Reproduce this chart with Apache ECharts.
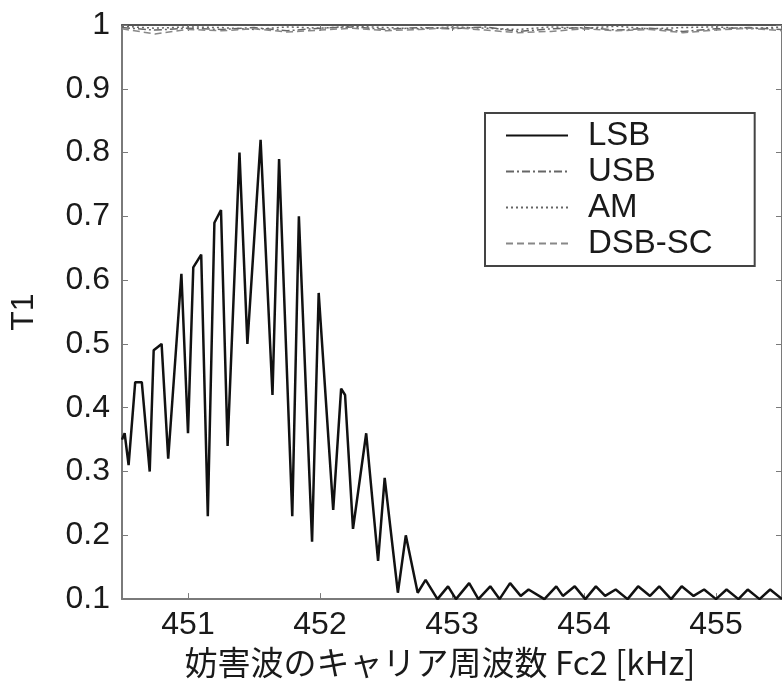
<!DOCTYPE html>
<html>
<head>
<meta charset="utf-8">
<script src="https://cdn.jsdelivr.net/npm/echarts@6/dist/echarts.min.js"></script>
<style>
html,body{margin:0;padding:0;background:#fff;}
#chart{width:782px;height:684px;}
</style>
</head>
<body>
<div id="chart"></div>
<script>
// ---- data ----
const xTicks = [451, 452, 453, 454, 455];
const yTicks = [0.1, 0.2, 0.3, 0.4, 0.5, 0.6, 0.7, 0.8, 0.9, 1.0];
const seriesNames = ['LSB', 'USB', 'AM', 'DSB-SC'];

const lsbFreq = [450.50, 450.52, 450.55, 450.60, 450.65, 450.71, 450.74, 450.80, 450.85, 450.95, 451.00,
  451.04, 451.10, 451.15, 451.20, 451.25, 451.30, 451.39, 451.45, 451.55, 451.64, 451.69, 451.79,
  451.84, 451.94, 451.99, 452.10, 452.16, 452.19, 452.25, 452.35, 452.44, 452.49, 452.59, 452.65,
  452.74, 452.80, 452.89, 452.97, 453.03, 453.13, 453.20, 453.29, 453.36, 453.44, 453.52, 453.58,
  453.70, 453.79, 453.84, 453.93, 454.01, 454.09, 454.16, 454.24, 454.33, 454.41, 454.50, 454.57,
  454.66, 454.74, 454.83, 454.91, 455.00, 455.08, 455.17, 455.24, 455.33, 455.41, 455.50];
const lsbT1 = [0.35, 0.36, 0.31, 0.44, 0.44, 0.30, 0.49, 0.50, 0.32, 0.61, 0.36,
  0.62, 0.64, 0.23, 0.69, 0.71, 0.34, 0.80, 0.50, 0.82, 0.42, 0.79, 0.23,
  0.70, 0.19, 0.58, 0.24, 0.43, 0.42, 0.21, 0.36, 0.16, 0.29, 0.11, 0.20,
  0.11, 0.13, 0.10, 0.12, 0.10, 0.125, 0.10, 0.12, 0.10, 0.125, 0.105, 0.115,
  0.10, 0.12, 0.105, 0.12, 0.10, 0.12, 0.105, 0.115, 0.10, 0.12, 0.105, 0.12,
  0.10, 0.12, 0.105, 0.115, 0.10, 0.115, 0.10, 0.115, 0.10, 0.115, 0.10];

const topFreq = [450.50, 450.75, 451.00, 451.25, 451.50, 451.75, 452.00, 452.25, 452.50, 452.75, 453.00,
  453.25, 453.50, 453.75, 454.00, 454.25, 454.50, 454.75, 455.00, 455.25, 455.50];
const usbT1 = [0.996, 0.992, 0.995, 0.993, 0.996, 0.991, 0.995, 0.997, 0.993, 0.996, 0.994,
  0.997, 0.990, 0.994, 0.996, 0.992, 0.995, 0.990, 0.994, 0.996, 0.993];
const amT1 = [0.998, 0.995, 0.997, 0.996, 0.993, 0.997, 0.995, 0.998, 0.996, 0.994, 0.997,
  0.995, 0.993, 0.997, 0.995, 0.998, 0.994, 0.996, 0.997, 0.994, 0.997];
const dsbT1 = [0.994, 0.986, 0.993, 0.991, 0.994, 0.989, 0.992, 0.995, 0.991, 0.993, 0.996,
  0.992, 0.988, 0.990, 0.994, 0.991, 0.993, 0.988, 0.992, 0.995, 0.991];

// ---- chart ----
const zip = (xs, ys) => xs.map((x, i) => [x, ys[i]]);
const FONT = '"Liberation Sans", Arial, Helvetica, sans-serif';
const TXT = '#1a1a1a';
const AX = '#7a7a7a';

const chart = echarts.init(document.getElementById('chart'), null, {renderer: 'canvas'});

const option = {
  animation: false,
  backgroundColor: '#ffffff',
  grid: {left: 120, top: 25, width: 671, height: 578, containLabel: false},
  legend: {
    orient: 'vertical',
    left: 485, top: 113,
    itemWidth: 62, itemHeight: 14, itemGap: 3,
    padding: [6, 42, 6, 20],
    borderColor: '#444', borderWidth: 2,
    backgroundColor: '#fff',
    data: seriesNames,
    itemStyle: {opacity: 0},
    textStyle: {fontSize: 33, fontFamily: FONT, color: TXT, padding: [0, 0, 0, 15]}
  },
  xAxis: [{
    type: 'value', position: 'bottom', min: 450.5, max: 455.5,
    axisLine: {show: true, onZero: false, lineStyle: {color: AX, width: 2}},
    axisTick: {show: true, inside: true, length: 6, customValues: xTicks, lineStyle: {color: AX}},
    axisLabel: {customValues: xTicks, fontSize: 32, fontFamily: FONT, color: TXT, margin: 10},
    splitLine: {show: false},
    name: '妨害波のキャリア周波数 Fc2 [kHz]',
    nameLocation: 'middle', nameGap: 42,
    nameTextStyle: {fontSize: 33, fontFamily: '"Noto Sans CJK JP", ' + FONT, color: TXT, padding: [0, 24, 0, 0]}
  }, {
    type: 'value', position: 'top', min: 450.5, max: 455.5,
    axisLine: {show: true, onZero: false, lineStyle: {color: '#555', width: 2}},
    axisTick: {show: true, inside: true, length: 6, customValues: xTicks, lineStyle: {color: AX}},
    axisLabel: {show: false}, splitLine: {show: false}
  }],
  yAxis: [{
    type: 'value', position: 'left', min: 0.1, max: 1,
    axisLine: {show: true, onZero: false, lineStyle: {color: AX, width: 2}},
    axisTick: {show: true, inside: true, length: 6, customValues: yTicks, lineStyle: {color: AX}},
    axisLabel: {customValues: yTicks, fontSize: 32, fontFamily: FONT, color: TXT, margin: 12,
      formatter: v => (Math.abs(v - 1) < 1e-9 ? '1' : v.toFixed(1))},
    splitLine: {show: false},
    name: 'T1', nameLocation: 'middle', nameGap: 82,
    nameTextStyle: {fontSize: 32, fontFamily: FONT, color: TXT}
  }, {
    type: 'value', position: 'right', min: 0.1, max: 1,
    axisLine: {show: true, onZero: false, lineStyle: {color: AX, width: 2}},
    axisTick: {show: true, inside: true, length: 6, customValues: yTicks, lineStyle: {color: AX}},
    axisLabel: {show: false}, splitLine: {show: false}
  }],
  series: [
    {name: 'LSB', type: 'line', data: zip(lsbFreq, lsbT1), symbol: 'none', z: 5,
      lineStyle: {color: '#111', width: 2.5, type: 'solid'}, itemStyle: {color: '#111'}},
    {name: 'USB', type: 'line', data: zip(topFreq, usbT1), symbol: 'none', z: 3,
      lineStyle: {color: '#666', width: 1.5, type: [8, 3, 2, 3]}, itemStyle: {color: '#666'}},
    {name: 'AM', type: 'line', data: zip(topFreq, amT1), symbol: 'none', z: 3,
      lineStyle: {color: '#666', width: 1.5, type: [2, 3]}, itemStyle: {color: '#666'}},
    {name: 'DSB-SC', type: 'line', data: zip(topFreq, dsbT1), symbol: 'none', z: 3,
      lineStyle: {color: '#888', width: 1.5, type: [7, 4]}, itemStyle: {color: '#888'}}
  ]
};
chart.setOption(option);
</script>
</body>
</html>
